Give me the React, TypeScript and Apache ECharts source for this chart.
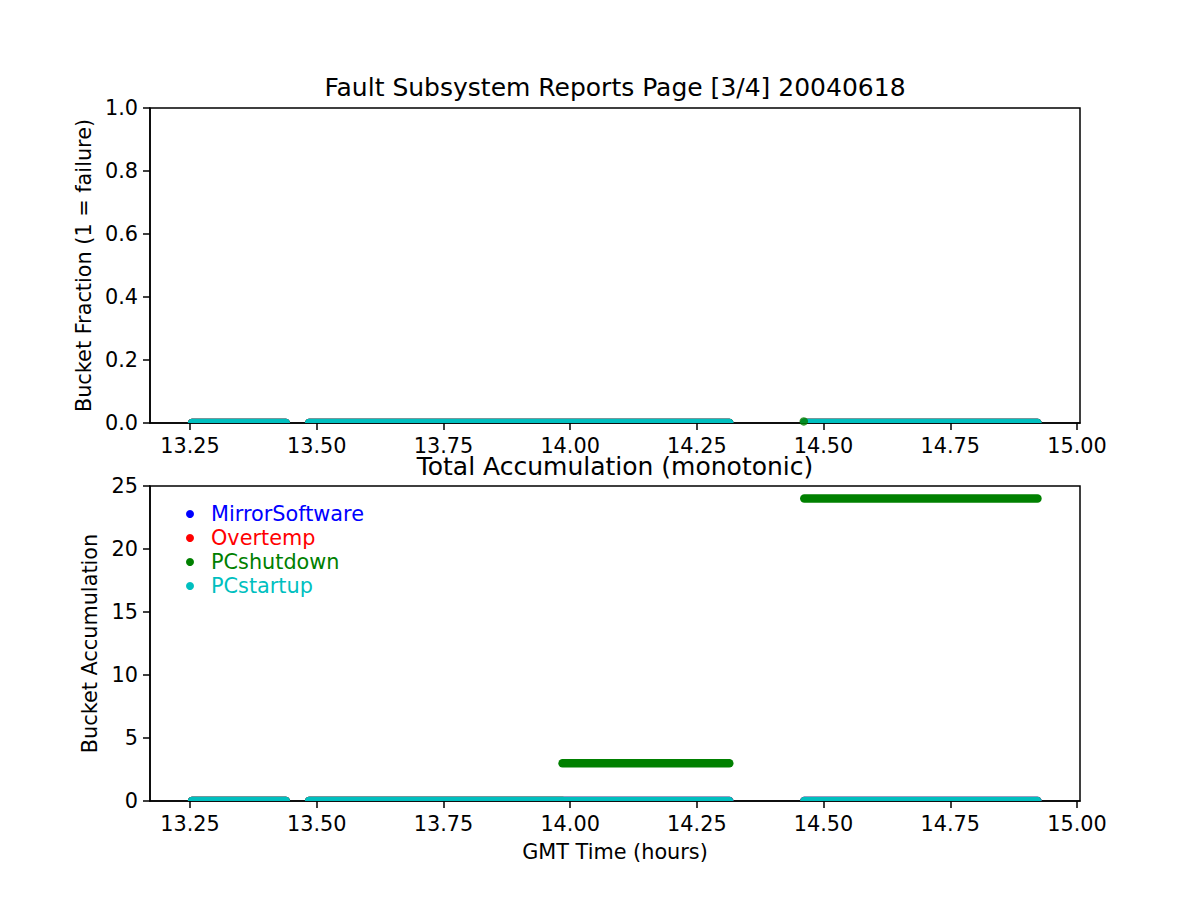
import React, { useEffect, useRef } from "react";
import * as echarts from "echarts";

// Series
const seriesNames = ["MirrorSoftware", "Overtemp", "PCshutdown", "PCstartup"];
const seriesColors = ["#0000ff", "#ff0000", "#008000", "#00bfbf"];

// Axis ticks
const xTicks = [13.25, 13.5, 13.75, 14.0, 14.25, 14.5, 14.75, 15.0];
const xMin = 13.171;
const xMax = 15.006;

// Top panel: bucket fraction, segments [start hour, end hour, value]
const fracMirror = [[13.254, 13.439, 0], [13.485, 14.314, 0], [14.462, 14.922, 0]];
const fracOvertemp = [[13.254, 13.439, 0], [13.485, 14.314, 0], [14.462, 14.922, 0]];
const fracShutdown = [[13.254, 13.439, 0], [13.485, 14.314, 0], [14.462, 14.922, 0]];
const fracStartup = [[13.254, 13.439, 0], [13.485, 14.314, 0], [14.462, 14.922, 0]];
const fracShutdownSpike = [[14.461, 0.005]];

// Bottom panel: accumulation, segments [start hour, end hour, value]
const accMirror = [[13.254, 13.439, 0], [13.485, 14.314, 0], [14.462, 14.922, 0]];
const accOvertemp = [[13.254, 13.439, 0], [13.485, 14.314, 0], [14.462, 14.922, 0]];
const accShutdown = [[13.254, 13.439, 0], [13.485, 13.985, 0], [13.985, 14.314, 3], [14.462, 14.922, 24]];
const accStartup = [[13.254, 13.439, 0], [13.485, 14.314, 0], [14.462, 14.922, 0]];

const FONT = "DejaVu Sans";
const FS = 20.8;
const MARK = 8.5;

function segSeries(name: string, color: string, segs: number[][], gi: number) {
  return {
    type: "custom",
    name,
    xAxisIndex: gi,
    yAxisIndex: gi,
    data: segs,
    encode: { x: [0, 1], y: 2 },
    clip: true,
    itemStyle: { color },
    emphasis: { disabled: true },
    renderItem: (params: any, api: any) => {
      const a = api.coord([api.value(0), api.value(2)]);
      const b = api.coord([api.value(1), api.value(2)]);
      return {
        type: "line",
        shape: { x1: a[0], y1: a[1], x2: b[0], y2: b[1] },
        style: { stroke: color, lineWidth: MARK, lineCap: "round", fill: null },
      };
    },
  };
}

export default function App() {
  const ref = useRef<HTMLDivElement>(null);
  useEffect(() => {
    const chart = echarts.init(ref.current!, null, { renderer: "svg" });
    const frac = [fracMirror, fracOvertemp, fracShutdown, fracStartup];
    const acc = [accMirror, accOvertemp, accShutdown, accStartup];
    const series: any[] = [];
    seriesNames.forEach((n, i) => {
      series.push(segSeries(n, seriesColors[i], frac[i], 0));
      if (n === "PCshutdown") {
        series.push({
          type: "scatter",
          name: n,
          xAxisIndex: 0,
          yAxisIndex: 0,
          data: fracShutdownSpike,
          symbolSize: MARK,
          itemStyle: { color: seriesColors[i] },
          clip: true,
        });
      }
    });
    seriesNames.forEach((n, i) => {
      series.push(segSeries(n, seriesColors[i], acc[i], 1));
    });

    const xAxisBase = (gi: number, name: string) => ({
      type: "value",
      gridIndex: gi,
      min: xMin,
      max: xMax,
      name,
      nameLocation: "middle",
      nameGap: 40,
      nameTextStyle: { fontFamily: FONT, fontSize: FS, color: "#000" },
      axisLine: { show: true, lineStyle: { color: "#000", width: 1.5 } },
      axisTick: { show: true, length: 7, inside: false, customValues: xTicks, lineStyle: { color: "#000", width: 1.5 } },
      axisLabel: {
        customValues: xTicks,
        formatter: (v: number) => v.toFixed(2),
        fontFamily: FONT,
        fontSize: FS,
        color: "#000",
        margin: 12,
      },
      splitLine: { show: false },
    });
    const yAxisBase = (gi: number, name: string, max: number, interval: number, dec: number, gap: number) => ({
      type: "value",
      gridIndex: gi,
      min: 0,
      max,
      interval,
      name,
      nameLocation: "middle",
      nameGap: gap,
      nameTextStyle: { fontFamily: FONT, fontSize: FS, color: "#000" },
      axisLine: { show: true, lineStyle: { color: "#000", width: 1.5 } },
      axisTick: { show: true, length: 7, lineStyle: { color: "#000", width: 1.5 } },
      axisLabel: {
        formatter: (v: number) => v.toFixed(dec),
        fontFamily: FONT,
        fontSize: FS,
        color: "#000",
        margin: 12,
      },
      splitLine: { show: false },
    });

    chart.setOption({
      animation: false,
      backgroundColor: "#fff",
      graphic: [
        {
          type: "text",
          x: 615,
          y: 87,
          style: {
            text: "Fault Subsystem Reports Page [3/4] 20040618",
            font: `25px "${FONT}"`,
            fill: "#000",
            align: "center",
            verticalAlign: "middle",
          },
        },
        {
          type: "text",
          x: 615,
          y: 466,
          style: {
            text: "Total Accumulation (monotonic)",
            font: `25px "${FONT}"`,
            fill: "#000",
            align: "center",
            verticalAlign: "middle",
          },
        },
      ],
      legend: {
        orient: "vertical",
        left: 186,
        top: 502,
        padding: 0,
        itemGap: 0,
        itemWidth: 32,
        itemHeight: 8,
        icon: "circle",
        selectedMode: false,
        textStyle: { fontFamily: FONT, fontSize: FS, lineHeight: 24 },
        data: seriesNames.map((n, i) => ({
          name: n,
          icon: "circle",
          itemStyle: { color: seriesColors[i] },
          textStyle: { color: seriesColors[i] },
        })),
      },
      grid: [
        { left: 150, top: 108, width: 930, height: 315, show: true, borderColor: "#000", borderWidth: 1.5, backgroundColor: "transparent" },
        { left: 150, top: 486, width: 930, height: 315, show: true, borderColor: "#000", borderWidth: 1.5, backgroundColor: "transparent" },
      ],
      xAxis: [xAxisBase(0, ""), xAxisBase(1, "GMT Time (hours)")],
      yAxis: [
        yAxisBase(0, "Bucket Fraction (1 = failure)", 1, 0.2, 1, 55),
        yAxisBase(1, "Bucket Accumulation", 25, 5, 0, 48),
      ],
      series,
    });
    return () => chart.dispose();
  }, []);
  return <div ref={ref} style={{ position: "fixed", left: 0, top: 0, width: 1200, height: 900 }} />;
}
